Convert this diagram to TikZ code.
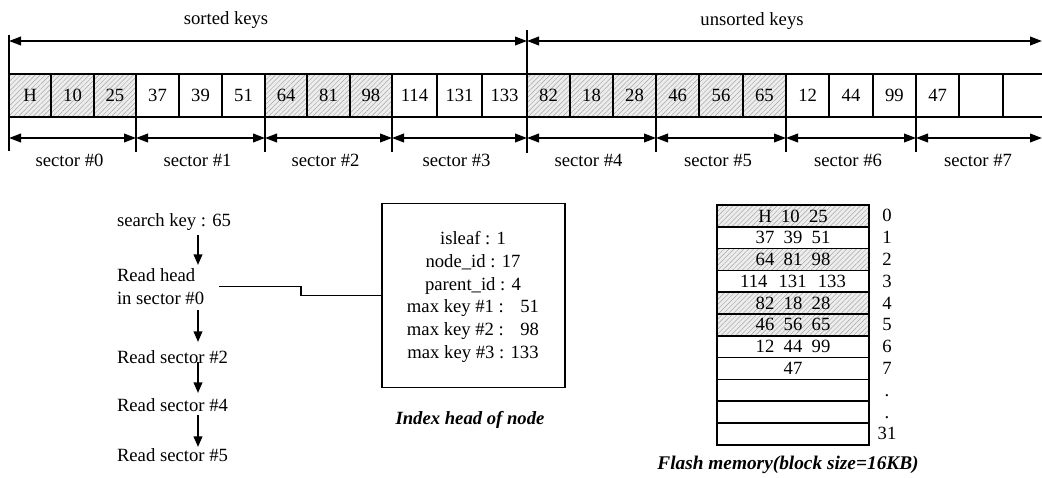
\documentclass[tikz,border=0pt]{standalone}
\usepackage{fontspec}
\setmainfont{Liberation Serif}
\usetikzlibrary{arrows.meta,patterns.meta,calc}
\begin{document}
\begin{tikzpicture}[x=0.75pt,y=-0.75pt,
  every node/.style={font=\fontsize{14}{17}\selectfont, inner sep=0pt, outer sep=0pt},
  cell/.style={draw, line width=1.3pt, minimum height=43*0.75pt},
  hatched/.style={preaction={fill=gray!14}, pattern={Lines[angle=45,distance=2.6pt,line width=0.35pt]}, pattern color=gray!70},
  hat1/.style={hatched}, hat0/.style={},
  tick/.style={line width=1pt},
  dim/.style={line width=1.3pt, {Triangle[length=9pt,width=6.5pt]}-{Triangle[length=9pt,width=6.5pt]}},
  flow/.style={line width=1.4pt, -{Triangle[length=8pt,width=6.5pt]}},
  conn/.style={line width=1.2pt},
  memrow/.style={draw, line width=1.2pt, minimum width=152*0.75pt, minimum height=21.8*0.75pt},
  caption/.style={font=\fontsize{14.5}{17}\selectfont\bfseries\itshape}
]
\useasboundingbox (0,0) rectangle (1042,478);

% ---------- key cells ----------
\foreach \s/\a/\b/\sh/\ta/\tb/\tc in {
  0/9/136/1/H/10/25, 1/136/265/0/37/39/51, 2/265/392/1/64/81/98,
  3/392/527/0/114/131/133, 4/527/656/1/82/18/28, 5/656/786/1/46/56/65,
  6/786/916/0/12/44/99, 7/916/1046/0/47//}{
  \pgfmathsetmacro\w{(\b-\a)/3}
  \node[cell, hat\sh, minimum width=\w*0.75pt] (c\s-0) at ({\a+0.5*\w},95.5) {\ta};
  \node[cell, hat\sh, minimum width=\w*0.75pt] (c\s-1) at ({\a+1.5*\w},95.5) {\tb};
  \node[cell, hat\sh, minimum width=\w*0.75pt] (c\s-2) at ({\a+2.5*\w},95.5) {\tc};
  \node (sl\s) at ({(\a+\b)/2-3},160) {sector \#\s};
}

% ---------- boundary ticks and sector arrows ----------
\draw[tick] (9,35) -- (9,151);
\draw[tick] (527,30) -- (527,153);
\foreach \x in {136,265,392,656,786,916}{
  \draw[tick] (\x,117) -- (\x,152);
}
\foreach \i/\x in {0/9,1/136,2/265,3/392,4/527,5/656,6/786,7/916,8/1042}{
  \coordinate (b\i) at (\x,138);
}
\foreach \i [evaluate=\i as \j using int(\i+1)] in {0,...,7}{
  \draw[dim] (b\i) -- (b\j);
}

% ---------- sorted / unsorted arrows ----------
\coordinate (t0) at (9,41);
\coordinate (t1) at (527,41);
\coordinate (t2) at (1042,41);
\draw[dim] (t0) -- (t1);
\draw[dim] (t1) -- (t2);
\node (sorted) at (226,20) {sorted keys};
\node (unsorted) at (752,21) {unsorted keys};

% ---------- search flow ----------
\coordinate (ax) at (198,0);
\node[anchor=west] (search) at (117,222) {search key : 65};
\node[anchor=west, align=left] (head) at (117,286.5) {Read head\\in sector \#0};
\node[anchor=west] (s2) at (117,357) {Read sector \#2};
\node[anchor=west] (s4) at (117,405) {Read sector \#4};
\node[anchor=west] (s5) at (117,455) {Read sector \#5};
\draw[flow] ($(search.center -| ax)+(0,13)$) -- ($(head.center -| ax)+(0,-21.5)$);
\draw[flow] ($(head.center -| ax)+(0,23.5)$) -- ($(s2.center -| ax)+(0,-15)$);
\draw[flow] ($(s2.center -| ax)+(0,5)$) -- ($(s4.center -| ax)+(0,-12)$);
\draw[flow] ($(s4.center -| ax)+(0,10)$) -- ($(s5.center -| ax)+(0,-8)$);

% ---------- index head box ----------
\node[draw, line width=1.2pt, minimum width=183*0.75pt, minimum height=184*0.75pt] (box) at (473.5,295.5) {};
\node[align=center] (boxtext) at (473,297) {isleaf : 1\\node\_id : 17\\parent\_id : 4\\
  max key \#1 : \makebox[1.55em][r]{51}\\max key \#2 : \makebox[1.55em][r]{98}\\max key \#3 : 133};
\draw[conn] (head.east) ++(15,0) -- ++(82,0) |- (box.west);
\node[font=\fontsize{14}{17}\selectfont\bfseries\itshape] (idxcap) at (470,420) {Index head of node};

% ---------- flash memory ----------
\foreach \r/\sh/\t/\n in {0/1/{H\enspace 10\enspace 25}/0, 1/0/{37\enspace 39\enspace 51}/1,
  2/1/{64\enspace 81\enspace 98}/2, 3/0/{114\hspace{.6em}131\hspace{.6em}133}/3,
  4/1/{82\enspace 18\enspace 28}/4, 5/1/{46\enspace 56\enspace 65}/5,
  6/0/{12\enspace 44\enspace 99}/6, 7/0/{47}/7, 8/0/{}/., 9/0/{}/., 10/0/{}/31}{
  \node[memrow, hat\sh] (m\r) at (793,{205+21.8*(\r+0.5)}) {\t};
  \node[anchor=base] (n\r) at (887,{205+21.8*(\r+0.5)+6}) {\n};
}
\node[caption] (memcap) at (788,465) {Flash memory(block size=16KB)};
\end{tikzpicture}
\end{document}
